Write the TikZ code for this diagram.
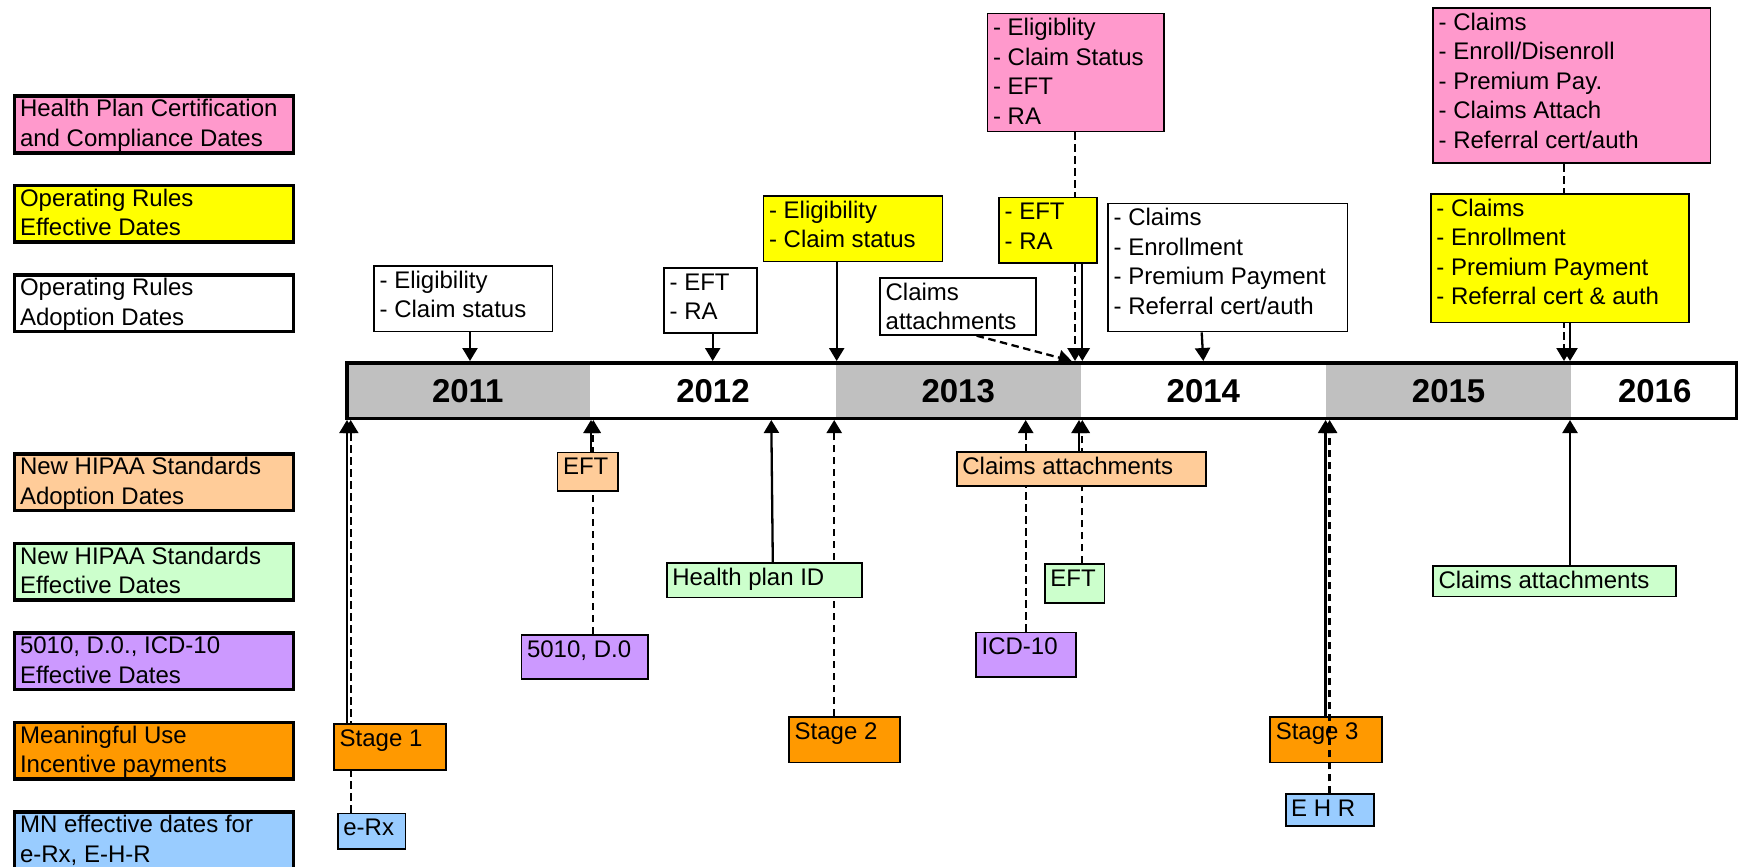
\documentclass[tikz,border=0pt]{standalone}
\usepackage{fontspec}
\setmainfont{Liberation Sans}
\usetikzlibrary{arrows.meta,backgrounds}
\definecolor{cpink}{HTML}{FF99CC}
\definecolor{cyellow}{HTML}{FFFF00}
\definecolor{cpeach}{HTML}{FFCC99}
\definecolor{cgreen}{HTML}{CCFFCC}
\definecolor{cpurple}{HTML}{CC99FF}
\definecolor{corange}{HTML}{FF9900}
\definecolor{cblue}{HTML}{99CCFF}
\definecolor{cgray}{HTML}{C0C0C0}
\newcommand\fb{22.5}
\newcommand\mybox[8]{%
  \pgfmathsetmacro\bw{#5-#3}%
  \pgfmathsetmacro\bh{#6-#4}%
  \node[#1, fill=#7, anchor=north west] (#2) at (#3,#4)
    {\parbox[t][\bh pt][t]{\bw pt}{\raggedright\leftskip=5.5pt\rule{0pt}{\fb pt}#8}};%
}
\begin{document}
\begin{tikzpicture}[x=1pt,y=-1pt,
  every node/.style={font=\fontsize{24}{29.5}\selectfont},
  thinbox/.style={draw=black, line width=1.7pt, inner sep=0pt},
  legbox/.style={draw=black, line width=3.5pt, inner sep=0pt},
  arr/.style={line width=2.3pt, -{Triangle[width=15pt,length=13pt]}},
  dsh/.style={arr, dash pattern=on 7.5pt off 4.5pt},
  yearseg/.style={inner sep=0pt, minimum width=245.2pt, minimum height=59pt, anchor=north west,
    font=\fontsize{33}{36}\selectfont\bfseries}]
\useasboundingbox (0,0) rectangle (1741,867);

% ---------- legend ----------
\renewcommand\fb{20.5}
\mybox{legbox}{L1}{12.8}{94.5}{291.6}{151}{cpink}{Health Plan Certification\\and Compliance Dates}
\mybox{legbox}{L2}{12.8}{183.8}{291.6}{240.3}{cyellow}{Operating Rules\\Effective Dates}
\mybox{legbox}{L3}{12.8}{273.3}{291.6}{329.8}{white}{Operating Rules\\Adoption Dates}
\mybox{legbox}{L4}{12.8}{452.3}{291.6}{508.8}{cpeach}{New HIPAA Standards\\Adoption Dates}
\mybox{legbox}{L5}{12.8}{541.8}{291.6}{598.3}{cgreen}{New HIPAA Standards\\Effective Dates}
\mybox{legbox}{L6}{12.8}{631.3}{291.6}{687.8}{cpurple}{5010, D.0., ICD-10\\Effective Dates}
\mybox{legbox}{L7}{12.8}{720.8}{291.6}{777.3}{corange}{Meaningful Use\\Incentive payments}
\mybox{legbox}{L8}{12.8}{810.3}{291.6}{866.8}{cblue}{MN effective dates for\\e-Rx, E-H-R}

% ---------- timeline bar ----------
\node[yearseg, fill=cgray] (s2011) at (345,361) {2011};
\node[yearseg, fill=white] (s2012) at (590.2,361) {2012};
\node[yearseg, fill=cgray] (s2013) at (835.4,361) {2013};
\node[yearseg, fill=white] (s2014) at (1080.6,361) {2014};
\node[yearseg, fill=cgray] (s2015) at (1325.8,361) {2015};
\node[yearseg, fill=white, minimum width=167pt] (s2016) at (1571,361) {2016};
\node[draw, line width=3.5pt, inner sep=0pt, minimum width=1389.5pt, minimum height=55.5pt] (bar) at (1041.5,390.5) {};

% ---------- upper boxes ----------
\renewcommand\fb{22.3}
\mybox{thinbox}{T1}{373.3}{265}{551.7}{330.7}{white}{- Eligibility\\- Claim status}
\mybox{thinbox}{T2}{663.3}{267.3}{756}{332.3}{white}{- EFT\\- RA}
\mybox{thinbox}{T3}{762.7}{195}{941.7}{260.7}{cyellow}{- Eligibility\\- Claim status}
\mybox{thinbox}{T4}{986.7}{12.7}{1163.3}{130.7}{cpink}{- Eligiblity\\- Claim Status\\- EFT\\- RA}
\mybox{thinbox}{T5}{998.3}{196.7}{1096}{262.3}{cyellow}{- EFT\\- RA}
\mybox{thinbox}{T6}{879.3}{277.3}{1035.3}{334}{white}{Claims\\attachments}
\mybox{thinbox}{T7}{1107.3}{202.7}{1346.7}{330.7}{white}{- Claims\\- Enrollment\\- Premium Payment\\- Referral cert/auth}
\mybox{thinbox}{T8}{1432.3}{7.3}{1709.7}{162.3}{cpink}{- Claims\\- Enroll/Disenroll\\- Premium Pay.\\- Claims Attach\\- Referral cert/auth}
\mybox{thinbox}{T9}{1430}{193.3}{1688.3}{321.7}{cyellow}{- Claims\\- Enrollment\\- Premium Payment\\- Referral cert \& auth}

% ---------- lower boxes ----------
\mybox{thinbox}{B1}{556.7}{451.7}{616.8}{490}{cpeach}{EFT}
\mybox{thinbox}{B2}{520.7}{634}{647.3}{678.3}{cpurple}{5010, D.0}
\mybox{thinbox}{B3}{665.9}{562}{861}{596.7}{cgreen}{Health plan ID}
\mybox{thinbox}{B4}{788.3}{716}{898.9}{761.7}{corange}{Stage 2}
\mybox{thinbox}{B5}{956}{451}{1205.3}{485}{cpeach}{Claims attachments}
\mybox{thinbox}{B6}{1044}{563.3}{1103.7}{602.3}{cgreen}{EFT}
\mybox{thinbox}{B7}{975.3}{631.7}{1075}{676}{cpurple}{ICD-10}
\mybox{thinbox}{B8}{1269.4}{716}{1381}{761.7}{corange}{Stage 3}
\mybox{thinbox}{B9}{1284.8}{793.3}{1373.2}{825}{cblue}{E H R}
\mybox{thinbox}{B10}{1432.2}{565}{1675.2}{595.7}{cgreen}{Claims attachments}
\mybox{thinbox}{B11}{333.3}{723.3}{445}{769.3}{corange}{Stage 1}
\mybox{thinbox}{B12}{337}{812.7}{404.7}{848.3}{cblue}{e-Rx}

% ---------- connectors ----------
\begin{pgfonlayer}{background}
% from above
\draw[arr] (470,0 |- T1.south) -- (470,0 |- bar.north);
\draw[arr] (712.7,0 |- T2.south) -- (712.7,0 |- bar.north);
\draw[arr] (836.7,0 |- T3.south) -- (836.7,0 |- bar.north);
\draw[dsh] (1075,0 |- T4.south) -- (1075,0 |- bar.north);
\draw[arr] (1082.3,0 |- T5.south) -- (1082.3,0 |- bar.north);
\draw[dsh] (976.7,0 |- T6.south) -- (1071.7,0 |- bar.north);
\draw[arr] (1201.7,0 |- T7.south) -- (1203.3,0 |- bar.north);
\draw[dsh] (1564,0 |- T8.south) -- (1564,0 |- bar.north);
\draw[arr] (1570,0 |- T9.south) -- (1570,0 |- bar.north);
% from below
\draw[arr] (347,0 |- B11.north) -- (347,0 |- bar.south);
\draw[dsh] (350.7,0 |- B12.north) -- (350.7,0 |- bar.south);
\draw[arr] (591,0 |- B1.north) -- (591,0 |- bar.south);
\draw[dsh] (593.3,0 |- B2.north) -- (593.3,0 |- bar.south);
\draw[arr] (772.8,0 |- B3.north) -- (771.3,0 |- bar.south);
\draw[dsh] (834.2,0 |- B4.north) -- (834.2,0 |- bar.south);
\draw[arr] (1079,0 |- B5.north) -- (1079,0 |- bar.south);
\draw[dsh] (1082.3,0 |- B6.north) -- (1082.3,0 |- bar.south);
\draw[dsh] (1025.7,0 |- B7.north) -- (1025.7,0 |- bar.south);
\draw[arr] (1325.6,0 |- B8.north) -- (1325.6,0 |- bar.south);
\draw[arr] (1570,0 |- B10.north) -- (1570,0 |- bar.south);
\end{pgfonlayer}
\draw[dsh] (1329.6,0 |- B9.north) -- (1329.6,0 |- bar.south);
\end{tikzpicture}
\end{document}
